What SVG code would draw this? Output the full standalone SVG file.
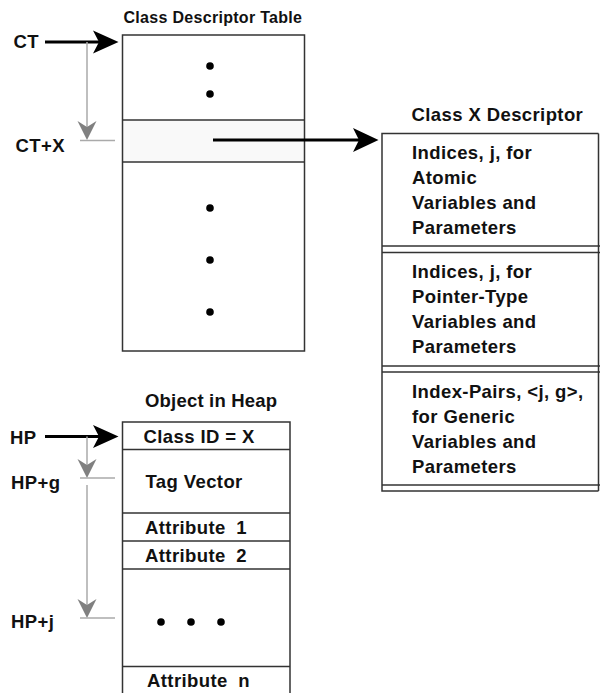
<svg xmlns="http://www.w3.org/2000/svg" width="600" height="693" viewBox="0 0 600 693">
<style>
text{font-family:"Liberation Sans",Arial,Helvetica,sans-serif;font-weight:bold;fill:#111;font-size:18.5px;letter-spacing:0.4px}
.t16{font-size:16px;letter-spacing:0.3px}
.box{fill:none;stroke:#333;stroke-width:1.5}
.ln{stroke:#333;stroke-width:1.5}
.blk{stroke:#000;stroke-width:3;fill:none}
.gry{stroke:#aaa;stroke-width:1.5;fill:none}
.gh{fill:#808080}
.bh{fill:#000}
.dot{fill:#000}
</style>
<rect width="600" height="693" fill="#fff"/>

<g id="class-descriptor-table">
<text class="t16" x="123.5" y="23">Class Descriptor Table</text>
<rect x="122.5" y="120" width="182" height="42" fill="#f9f9f9"/>
<rect class="box" x="122.5" y="35" width="182" height="316"/>
<line class="ln" x1="122.5" y1="120" x2="304.5" y2="120"/>
<line class="ln" x1="122.5" y1="162" x2="304.5" y2="162"/>
<circle class="dot" cx="210" cy="66" r="3.8"/>
<circle class="dot" cx="210" cy="94" r="3.8"/>
<circle class="dot" cx="210" cy="208" r="3.8"/>
<circle class="dot" cx="210" cy="260" r="3.8"/>
<circle class="dot" cx="210" cy="312" r="3.8"/>
</g>

<g id="class-x-descriptor">
<text x="411.5" y="121">Class X Descriptor</text>
<polyline class="box" points="598.5,133.5 382,133.5 382,491 598.5,491"/>
<line class="ln" x1="382" y1="246" x2="600" y2="246"/>
<line class="ln" x1="382" y1="252.5" x2="600" y2="252.5"/>
<line class="ln" x1="382" y1="366" x2="600" y2="366"/>
<line class="ln" x1="382" y1="372" x2="600" y2="372"/>
<line class="ln" x1="382" y1="485" x2="600" y2="485"/>
<line class="ln" x1="598.5" y1="133.5" x2="598.5" y2="491"/>
<text x="412" y="159">Indices, j, for</text>
<text x="412" y="184">Atomic</text>
<text x="412" y="209">Variables and</text>
<text x="412" y="234">Parameters</text>
<text x="412" y="278">Indices, j, for</text>
<text x="412" y="303">Pointer-Type</text>
<text x="412" y="328">Variables and</text>
<text x="412" y="353">Parameters</text>
<text x="412" y="398">Index-Pairs, &lt;j, g&gt;,</text>
<text x="412" y="423">for Generic</text>
<text x="412" y="448">Variables and</text>
<text x="412" y="473">Parameters</text>
</g>

<g id="object-in-heap">
<text x="145" y="406.5" style="letter-spacing:0.2px">Object in Heap</text>
<polyline class="box" points="122.5,700 122.5,422 290,422 290,700"/>
<line class="ln" x1="122.5" y1="449.5" x2="290" y2="449.5"/>
<line class="ln" x1="122.5" y1="513" x2="290" y2="513"/>
<line class="ln" x1="122.5" y1="541" x2="290" y2="541"/>
<line class="ln" x1="122.5" y1="569" x2="290" y2="569"/>
<line class="ln" x1="122.5" y1="666.5" x2="290" y2="666.5"/>
<text x="143.5" y="443">Class ID = X</text>
<text x="145.5" y="488">Tag Vector</text>
<text x="145" y="533.5">Attribute <tspan dx="5">1</tspan></text>
<text x="145" y="561.5">Attribute <tspan dx="5">2</tspan></text>
<text x="147" y="686.5">Attribute <tspan dx="5">n</tspan></text>
<circle class="dot" cx="161" cy="622" r="3.8"/>
<circle class="dot" cx="191" cy="622" r="3.8"/>
<circle class="dot" cx="221" cy="622" r="3.8"/>
</g>

<g id="labels">
<text x="13.5" y="48">CT</text>
<text x="15.5" y="152">CT+X</text>
<text x="10" y="443.5">HP</text>
<text x="11" y="488.5">HP+g</text>
<text x="11" y="628">HP+j</text>
</g>

<g id="connectors">
<line class="blk" x1="45" y1="42" x2="100" y2="42"/>
<path class="bh" d="M118.5,42 L93,30.5 L99,42 L93,53.5 Z"/>
<line class="blk" x1="213" y1="140" x2="360" y2="140"/>
<path class="bh" d="M378.5,140 L353,128 L359,140 L353,152 Z"/>
<line class="blk" x1="45" y1="436.5" x2="100" y2="436.5"/>
<path class="bh" d="M118.5,436.5 L93,425 L99,436.5 L93,448 Z"/>

<line class="gry" x1="87" y1="42" x2="87" y2="128"/>
<path class="gh" d="M87,140 L77.5,121 L87,127 L96.5,121 Z"/>
<line class="gry" x1="80" y1="140.5" x2="115" y2="140.5"/>

<line class="gry" x1="87" y1="436.5" x2="87" y2="466"/>
<path class="gh" d="M87,478 L77.5,459 L87,465 L96.5,459 Z"/>
<line class="gry" x1="80" y1="478" x2="115" y2="478"/>

<line class="gry" x1="87" y1="485" x2="87" y2="606"/>
<path class="gh" d="M87,618 L77.5,599 L87,605 L96.5,599 Z"/>
<line class="gry" x1="80" y1="618" x2="115" y2="618"/>
</g>
</svg>
